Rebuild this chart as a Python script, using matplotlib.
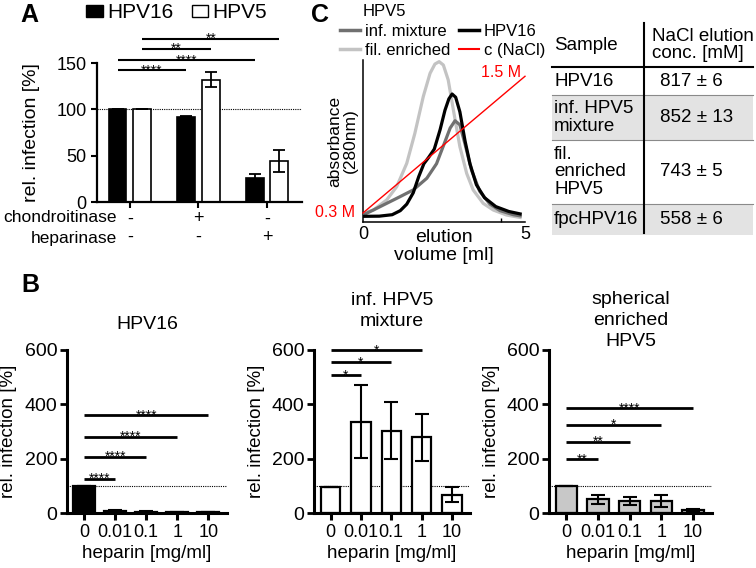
import matplotlib
matplotlib.use('Agg')
import matplotlib.pyplot as plt
from matplotlib.lines import Line2D
from matplotlib.patches import Patch, Rectangle

plt.rcParams['font.family'] = ['Liberation Sans', 'DejaVu Sans']

W, H = 756, 568
fig = plt.figure(figsize=(W / 100, H / 100), dpi=100)


def box(x0, x1, ytop, ybot):
    return [x0 / W, 1 - ybot / H, (x1 - x0) / W, (ybot - ytop) / H]


# ---------------- data ----------------
# Panel A
A_chond = ['-', '+', '-']
A_hep = ['-', '-', '+']
A_hpv16 = [100, 92, 26]
A_hpv16_err = [0, 0.8, 4]
A_hpv5 = [100, 132, 44]
A_hpv5_err = [0, 8, 12]
# (series_from, group_from, series_to, group_to, height, label)
A_sig = [('HPV16', 0, 'HPV16', 1, 142, '****'),
         ('HPV16', 0, 'HPV16', 2, 153, '****'),
         ('HPV5', 0, 'HPV5', 1, 165, '**'),
         ('HPV5', 0, 'HPV5', 2, 176, '**')]

# Panel B
B_doses = ['0', '0.01', '0.1', '1', '10']
B1_vals = [100, 8, 5, 3, 3]
B1_err = [0, 2, 1, 1, 1]
B2_vals = [97, 336, 303, 279, 68]
B2_err = [0, 135, 106, 87, 28]
B3_vals = [100, 50, 45, 45, 10]
B3_err = [0, 16, 15, 22, 5]
B1_sig = [(1, 125, '****'), (2, 206, '****'), (3, 280, '****'), (4, 360, '****')]
B2_sig = [(1, 507, '*'), (2, 555, '*'), (3, 599, '*')]
B3_sig = [(1, 198, '**'), (2, 261, '**'), (3, 324, '*'), (4, 386, '****')]

# Panel C (elution profiles, arbitrary absorbance units)
C_vol_mix = [0.0, 0.32, 0.73, 1.14, 1.55, 1.97, 2.27, 2.5, 2.69, 2.84, 2.99, 3.15, 3.35, 3.6, 3.92, 4.23, 4.64, 4.85]
C_abs_mix = [0.043, 0.074, 0.115, 0.156, 0.198, 0.27, 0.36, 0.48, 0.58, 0.625, 0.60, 0.48, 0.32, 0.19, 0.11, 0.07, 0.045, 0.038]
C_vol_fil = [0.0, 0.32, 0.73, 1.04, 1.35, 1.6, 1.86, 2.07, 2.22, 2.35, 2.48, 2.63, 2.79, 2.99, 3.2, 3.4, 3.71, 4.02, 4.43, 4.85]
C_abs_fil = [0.054, 0.074, 0.136, 0.218, 0.362, 0.547, 0.774, 0.918, 0.975, 0.99, 0.969, 0.877, 0.691, 0.465, 0.30, 0.198, 0.115, 0.074, 0.043, 0.028]
C_vol_16 = [0.0, 0.5, 0.9, 1.15, 1.35, 1.55, 1.72, 1.88, 2.03, 2.2, 2.38, 2.53, 2.65, 2.75, 2.86, 2.99, 3.15, 3.3, 3.5, 3.75, 4.1, 4.5, 4.85]
C_abs_16 = [0.035, 0.036, 0.045, 0.07, 0.11, 0.18, 0.28, 0.36, 0.40, 0.45, 0.57, 0.69, 0.76, 0.79, 0.77, 0.68, 0.50, 0.36, 0.23, 0.15, 0.095, 0.065, 0.05]
C_nacl_vol = [0, 5]
C_nacl_conc = [0.3, 1.5]

# Table
tbl_header = ['Sample', 'NaCl elution\nconc. [mM]']
tbl_samples = ['HPV16', 'inf. HPV5\nmixture', 'fil.\nenriched\nHPV5', 'fpcHPV16']
tbl_values = ['817 ± 6', '852 ± 13', '743 ± 5', '558 ± 6']

# ---------------- panel A ----------------
axA = fig.add_axes(box(97, 302, 63, 202))
xg = list(range(len(A_hpv16)))
off = 0.18
bw = 0.26
ekw = dict(lw=1.3, capthick=1.3, ecolor='black')
axA.axhline(100, ls=(0, (1, 1)), color='black', lw=0.8, zorder=0)
axA.bar([g - off for g in xg], A_hpv16, bw, color='black', edgecolor='black', lw=1.2,
        yerr=A_hpv16_err, capsize=4, error_kw=ekw, zorder=2)
axA.bar([g + off for g in xg], A_hpv5, bw, color='white', edgecolor='black', lw=1.2,
        yerr=A_hpv5_err, capsize=4, error_kw=ekw, zorder=2)
axA.set_xlim(-0.48, 2.51)
axA.set_ylim(0, 150)
axA.set_yticks([0, 50, 100, 150])
axA.set_xticks(xg)
axA.set_xticklabels([f'{c}\n{h}' for c, h in zip(A_chond, A_hep)], fontsize=13, linespacing=1.15)
axA.tick_params(axis='y', labelsize=13, width=1.5, length=4)
axA.tick_params(axis='x', width=1.5, length=4, pad=2)
for s in ['top', 'right']:
    axA.spines[s].set_visible(False)
for s in ['left', 'bottom']:
    axA.spines[s].set_linewidth(1.6)
axA.set_ylabel('rel. infection [%]', fontsize=14)
axA.yaxis.set_label_coords((40 - 97) / 205, 0.5)
sx = {'HPV16': -off, 'HPV5': off}
for s1, g1, s2, g2, yy, lab in A_sig:
    x1 = g1 + sx[s1]
    x2 = g2 + sx[s2]
    axA.plot([x1, x2], [yy, yy], color='black', lw=1.5, clip_on=False, solid_capstyle='butt')
    axA.annotate(lab, xy=((x1 + x2) / 2, yy), xytext=(0, -3), textcoords='offset points',
                 ha='center', va='baseline', fontsize=10, annotation_clip=False)
fig.text(117 / W, 1 - 217 / H, 'chondroitinase', ha='right', va='center', fontsize=12.5)
fig.text(117 / W, 1 - 238 / H, 'heparinase', ha='right', va='center', fontsize=12.5)
fig.legend([Patch(facecolor='black', edgecolor='black'), Patch(facecolor='white', edgecolor='black')],
           ['HPV16', 'HPV5'], ncol=2, frameon=False, fontsize=15, loc='upper left',
           bbox_to_anchor=(86 / W, 1 - 3 / H), handlelength=0.8, handleheight=0.5,
           handletextpad=0.2, columnspacing=0.9, borderaxespad=0, borderpad=0)

# ---------------- panel B ----------------
def panel_b(rect, vals, errs, sig, color, title, title_pad, bwid, ylab_px, x0px, x1px):
    ax = fig.add_axes(rect)
    xs = list(range(len(vals)))
    ax.axhline(100, ls=(0, (1, 1)), color='black', lw=0.8, zorder=0)
    ax.bar(xs, vals, bwid, color=color, edgecolor='black', lw=1.6,
           yerr=errs, capsize=5, error_kw=dict(lw=1.5, capthick=1.5, ecolor='black'), zorder=2)
    ax.set_xlim(-0.55, 4.6)
    ax.set_ylim(0, 600)
    ax.set_yticks([0, 200, 400, 600])
    ax.set_xticks(xs)
    ax.set_xticklabels(B_doses)
    ax.tick_params(axis='y', labelsize=14, width=2, length=5, pad=2)
    ax.tick_params(axis='x', labelsize=13, width=2.2, length=5, pad=3)
    for s in ['top', 'right']:
        ax.spines[s].set_visible(False)
    for s in ['left', 'bottom']:
        ax.spines[s].set_linewidth(2.2)
    ax.set_xlabel('heparin [mg/ml]', fontsize=13.5, labelpad=3)
    ax.set_ylabel('rel. infection [%]', fontsize=13.5)
    ax.yaxis.set_label_coords((ylab_px - x0px) / (x1px - x0px), 0.5)
    ax.set_title(title, fontsize=14, pad=title_pad, linespacing=1.3)
    for gi, yy, lab in sig:
        ax.plot([0, gi], [yy, yy], color='black', lw=2, clip_on=False, solid_capstyle='butt')
        ax.annotate(lab, xy=(gi / 2, yy), xytext=(0, -3), textcoords='offset points',
                    ha='center', va='baseline', fontsize=10, annotation_clip=False)
    return ax


panel_b(box(67, 227, 350, 513), B1_vals, B1_err, B1_sig, 'black', 'HPV16', 15, 0.7, 17, 67, 227)
panel_b(box(314, 470, 350, 513), B2_vals, B2_err, B2_sig, 'white', 'inf. HPV5\nmixture', 17, 0.64, 265, 314, 470)
panel_b(box(549, 712, 350, 513), B3_vals, B3_err, B3_sig, '#c8c8c8', 'spherical\nenriched\nHPV5', 1, 0.68, 500, 549, 712)

# ---------------- panel C ----------------
axC = fig.add_axes(box(363, 525, 60, 222))
axC.plot(C_vol_fil, C_abs_fil, color='#c3c3c3', lw=2.3, solid_joinstyle='round', zorder=2)
axC.plot(C_vol_mix, C_abs_mix, color='#707070', lw=2.3, solid_joinstyle='round', zorder=3)
axC.plot(C_vol_16, C_abs_16, color='black', lw=2.3, solid_joinstyle='round', zorder=4)
axC.set_xlim(0, 5)
axC.set_ylim(0, 1)
axC.set_yticks([])
axC.set_xticks([0, 5])
axC.set_xticklabels(['0', '5'])
axC.set_xticks([4.25], minor=True)
axC.tick_params(axis='x', which='major', length=0, labelsize=13, pad=3)
axC.tick_params(axis='x', which='minor', direction='in', length=3, width=1)
for s in ['top', 'right']:
    axC.spines[s].set_visible(False)
for s in ['left', 'bottom']:
    axC.spines[s].set_linewidth(1.1)
axC.set_xlabel('elution\nvolume [ml]', fontsize=14, labelpad=-10, linespacing=1.05)
axC.set_ylabel('absorbance\n(280nm)', fontsize=12.5, linespacing=1.0, labelpad=4)
axC2 = axC.twinx()
axC2.plot(C_nacl_vol, C_nacl_conc, color='red', lw=1.0, zorder=5, clip_on=False)
axC2.set_ylim(0.2205, 1.643)
axC2.axis('off')
axC2.annotate('0.3 M', xy=(0, 0.3), xytext=(-6, 0), textcoords='offset points', ha='right',
              va='center', color='red', fontsize=11.5, annotation_clip=False)
axC2.annotate('1.5 M', xy=(5, 1.5), xytext=(-3, 3), textcoords='offset points', ha='right',
              va='center', color='red', fontsize=11.5, annotation_clip=False)
fig.text(363 / W, 1 - 12 / H, 'HPV5', ha='left', va='center', fontsize=12)
fig.legend([Line2D([], [], color='#707070', lw=2.5), Line2D([], [], color='#c3c3c3', lw=2.5),
            Line2D([], [], color='black', lw=2.5), Line2D([], [], color='red', lw=1.5)],
           ['inf. mixture', 'fil. enriched', 'HPV16', 'c (NaCl)'], ncol=2, frameon=False,
           fontsize=12, loc='upper left', bbox_to_anchor=(340 / W, 1 - 24 / H),
           handlelength=1.2, handletextpad=0.3, columnspacing=0.5, labelspacing=0.25,
           borderaxespad=0, borderpad=0)

# ---------------- table ----------------
axT = fig.add_axes(box(545, 756, 15, 245))
axT.set_xlim(545, 756)
axT.set_ylim(245, 15)
axT.axis('off')
row_edges = [67, 95, 140, 204, 235]
tl, tr, tmid = 552, 753, 644
for i in range(len(tbl_samples)):
    if i % 2 == 1:
        axT.add_patch(Rectangle((tl, row_edges[i]), tr - tl, row_edges[i + 1] - row_edges[i],
                                facecolor='#e3e3e3', edgecolor='none', zorder=0))
    yc = (row_edges[i] + row_edges[i + 1]) / 2
    axT.text(tl + 2, yc, tbl_samples[i], ha='left', va='center', fontsize=13.5, linespacing=1.05)
    axT.text(660, yc, tbl_values[i], ha='left', va='center', fontsize=13.5)
for e in row_edges[1:-1]:
    axT.plot([tl, tr], [e, e], color='#8a8a8a', lw=0.8)
axT.plot([tl, tr], [row_edges[0], row_edges[0]], color='black', lw=1.5)
axT.plot([tmid, tmid], [23, 233], color='black', lw=1.5)
axT.text(tl + 2, 45, tbl_header[0], ha='left', va='center', fontsize=13.5)
axT.text(652, 45, tbl_header[1], ha='left', va='center', fontsize=13.5, linespacing=1.0)

# ---------------- panel letters ----------------
fig.text(20 / W, 1 - 15 / H, 'A', fontsize=18, fontweight='bold', va='center')
fig.text(21 / W, 1 - 285 / H, 'B', fontsize=18, fontweight='bold', va='center')
fig.text(311 / W, 1 - 15 / H, 'C', fontsize=18, fontweight='bold', va='center')

fig.savefig('out.png', dpi=100)
